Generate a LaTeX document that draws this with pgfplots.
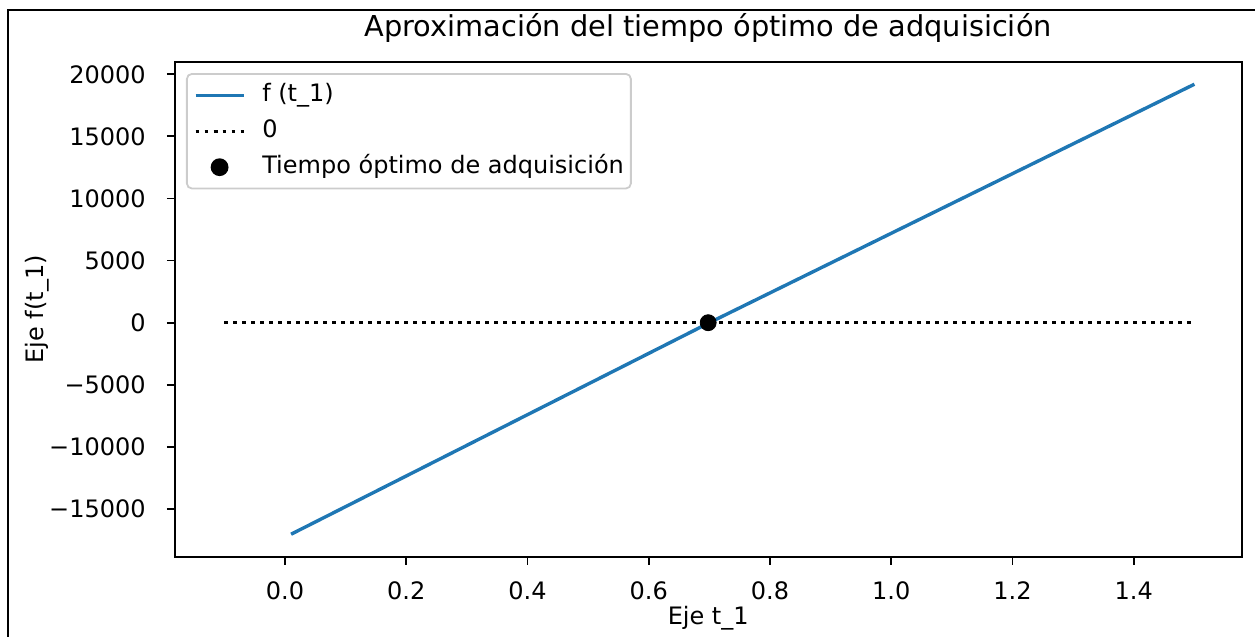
\documentclass[border=0pt]{standalone}
\usepackage{pgfplots}
\pgfplotsset{compat=1.18}
\usepackage{fontspec}
\setmainfont{DejaVu Sans}
\definecolor{mplblue}{HTML}{1F77B4}
\definecolor{legframe}{HTML}{CCCCCC}
\begin{document}
\begin{tikzpicture}[font=\fontsize{12}{14.4}\selectfont]
\useasboundingbox (0,0) rectangle (627.5pt,-318.5pt);
\draw[line width=1.1pt, black] (4.15pt,-330pt) -- (4.15pt,-5pt) -- (640pt,-5pt);
\begin{axis}[
  at={(87.35pt,-278.35pt)}, anchor=south west,
  scale only axis, width=533.5pt, height=247.5pt,
  xmin=-0.182, xmax=1.578, ymin=-18841, ymax=21014,
  scaled y ticks=false, scaled x ticks=false,
  axis line style={line width=0.9pt, black},
  every tick/.style={black, line width=0.9pt},
  tick align=outside, major tick length=3.95pt, tick pos=left,
  xtick={0,0.2,0.4,0.6,0.8,1.0,1.2,1.4},
  xticklabels={0.0,0.2,0.4,0.6,0.8,1.0,1.2,1.4},
  ytick={-15000,-10000,-5000,0,5000,10000,15000,20000},
  yticklabels={−15000,−10000,−5000,0,5000,10000,15000,20000},
  xticklabel style={anchor=center, yshift=-13.15pt, inner sep=0pt, text height=8.75pt, text depth=0pt},
  yticklabel style={anchor=east, xshift=-10.35pt, inner sep=0pt, text height=8.75pt, text depth=0pt},
  title={Aproximación del tiempo óptimo de adquisición},
  title style={at={(axis description cs:0.5,1)}, anchor=base, yshift=6.85pt, inner sep=0pt, font=\fontsize{14.4}{17}\selectfont},
  xlabel={Eje t\_1},
  xlabel style={at={(axis description cs:0.5,-0.1238)}, anchor=center, inner sep=0pt},
  ylabel={Eje f(t\_1)},
  ylabel style={at={(axis description cs:-0.129,0.5)}, anchor=center, inner sep=0pt},
  legend cell align=left,
  legend image code/.code={\draw[mark repeat=2,mark phase=2,#1] plot coordinates {(0pt,0pt)(12pt,0pt)(24pt,0pt)};},
  legend style={at={(rel axis cs:0,1)}, anchor=north west, xshift=5.65pt, yshift=-5.65pt,
    draw=legframe, fill=white, rounded corners=2.5pt, line width=0.9pt,
    inner xsep=3.5pt, inner ysep=5pt, column sep=8.5pt, row sep=6.7pt,
    nodes={inner sep=0pt, text height=8.8pt, text depth=2.5pt}},
]
\addplot[mplblue, line width=1.7pt, no marks] coordinates {(0.01,-17030) (0.70,0) (1.5,19200)};
\addlegendentry{f (t\_1)}
\addplot[black, line width=1.7pt, no marks, dash pattern=on 1.7pt off 2.8pt] coordinates {(-0.1,0) (1.5,0)};
\addlegendentry{0}
\addplot[only marks, mark=*, mark size=4pt, black, mark options={fill=black, draw=black}] coordinates {(0.698,0)};
\addlegendentry{Tiempo óptimo de adquisición}
\end{axis}
\end{tikzpicture}
\end{document}
